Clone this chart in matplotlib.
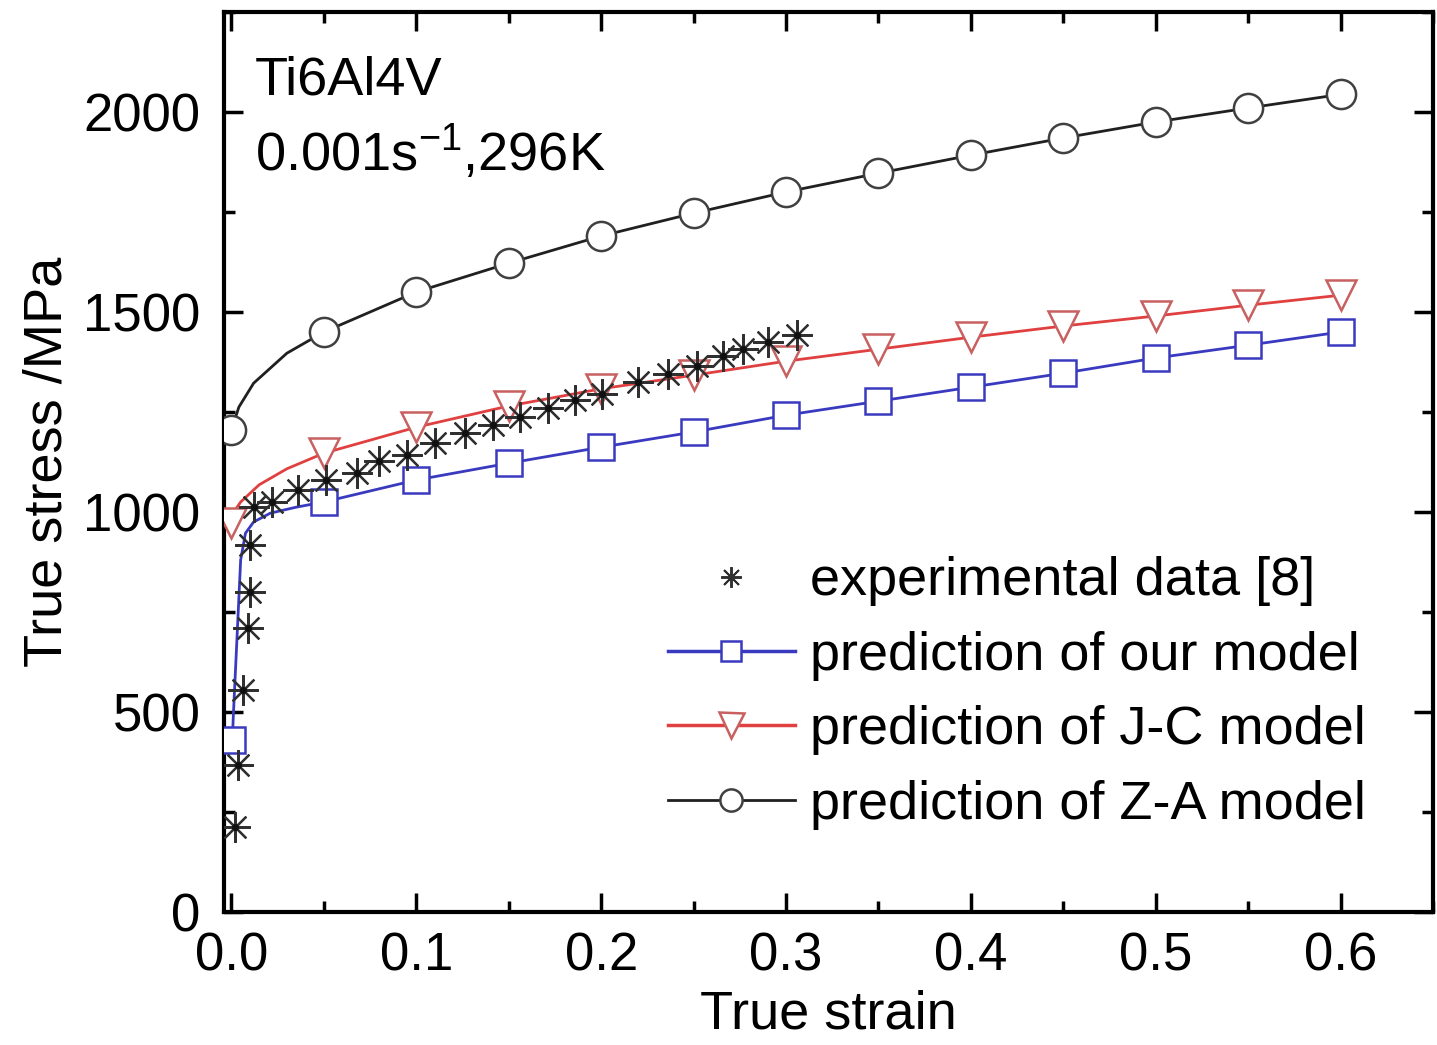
import numpy as np
import matplotlib
matplotlib.use('Agg')
import matplotlib.pyplot as plt
from matplotlib.ticker import MultipleLocator

plt.rcParams['font.family'] = ['Liberation Sans', 'DejaVu Sans']

# experimental data [8]
exp_strain = [0.0022, 0.0038, 0.0065, 0.0092, 0.0103, 0.0103, 0.012, 0.022, 0.036, 0.051,
              0.068, 0.080, 0.095, 0.110, 0.1265, 0.1416, 0.156, 0.171, 0.186, 0.2005,
              0.220, 0.236, 0.252, 0.266, 0.277, 0.290, 0.306]
exp_stress = [212, 367, 555, 710, 800, 917, 1012, 1025, 1055, 1080,
              1097, 1128, 1142, 1172, 1197, 1217, 1237, 1260, 1280, 1295,
              1325, 1345, 1365, 1390, 1408, 1425, 1442]

# model markers
mk_strain = [0.0, 0.05, 0.1, 0.15, 0.2, 0.25, 0.3, 0.35, 0.4, 0.45, 0.5, 0.55, 0.6]
our_mk_strain = [0.0005, 0.05, 0.1, 0.15, 0.2, 0.25, 0.3, 0.35, 0.4, 0.45, 0.5, 0.55, 0.6]
our_mk = [430, 1025, 1080, 1122, 1162, 1200, 1242, 1277, 1312, 1347, 1385, 1417, 1450]
jc_mk = [972, 1147, 1212, 1265, 1308, 1342, 1377, 1407, 1437, 1465, 1490, 1517, 1542]
za_mk = [1205, 1450, 1550, 1622, 1690, 1747, 1800, 1847, 1892, 1935, 1975, 2010, 2044]

# curve points read along the drawn lines near the origin
our_line_strain = [0.0005, 0.001, 0.005, 0.0076, 0.012, 0.021, 0.035]
our_line = [430, 487, 880, 947, 975, 997, 1012]
jc_line_strain = [0.0, 0.002, 0.005, 0.015, 0.03]
jc_line = [990, 1005, 1025, 1068, 1108]
za_line_strain = [0.0, 0.004, 0.012, 0.03]
za_line = [1205, 1262, 1322, 1397]

fig = plt.figure(figsize=(14.37, 10.45), dpi=100)
ax = fig.add_axes([0.1559, 0.1273, 0.8413, 0.8612])

blue = '#3a3ac0'
red = '#e04040'
fs = 38

def merged(xs1, ys1, xs2, ys2):
    pts = sorted(set(zip(xs1, ys1)) | set(zip(xs2, ys2)))
    return [p[0] for p in pts], [p[1] for p in pts]

ox, oy = merged(our_line_strain, our_line, our_mk_strain[1:], our_mk[1:])
jx, jy = merged(jc_line_strain, jc_line, mk_strain[1:], jc_mk[1:])
zx, zy = merged(za_line_strain, za_line, mk_strain[1:], za_mk[1:])

ax.plot(ox, oy, color=blue, lw=2, zorder=2)
ax.plot(jx, jy, color=red, lw=2, zorder=2)
ax.plot(zx, zy, color='#202020', lw=2, zorder=2)

ax.plot(our_mk_strain, our_mk, ls='none', marker='s', ms=19, mfc='white',
        mec=blue, mew=1.8, zorder=3)
ax.plot(mk_strain, jc_mk, ls='none', marker='v', ms=22, mfc='white',
        mec='#c86060', mew=1.8, zorder=3)
ax.plot(mk_strain, za_mk, ls='none', marker='o', ms=21, mfc='white',
        mec='#404040', mew=1.8, zorder=3)
ax.plot(exp_strain, exp_stress, ls='none', marker=(8, 2, 0), ms=22,
        mec='#303030', mew=1.6, zorder=4)
ax.plot(exp_strain, exp_stress, ls='none', marker='o', ms=5,
        mfc='#101010', mec='none', zorder=5)

# legend handles
h_exp, = ax.plot([], [], ls='none', marker=(8, 2, 0), ms=15, mec='#303030', mew=1.4)
h_our, = ax.plot([], [], color=blue, lw=2.5, marker='s', ms=15, mfc='white', mec=blue, mew=1.8)
h_jc, = ax.plot([], [], color=red, lw=2.5, marker='v', ms=18, mfc='white', mec='#c86060', mew=1.8)
h_za, = ax.plot([], [], color='#202020', lw=2, marker='o', ms=16, mfc='white', mec='#404040', mew=1.8)
ax.legend([h_exp, h_our, h_jc, h_za],
          ['experimental data [8]', 'prediction of our model',
           'prediction of J-C model', 'prediction of Z-A model'],
          loc='upper left', bbox_to_anchor=(0.367, 0.395), frameon=False,
          fontsize=39, handlelength=2.35, handletextpad=0.28, labelspacing=0.45,
          borderpad=0, borderaxespad=0)

ax.set_xlim(-0.004, 0.65)
ax.set_ylim(0, 2250)
ax.xaxis.set_major_locator(MultipleLocator(0.1))
ax.xaxis.set_minor_locator(MultipleLocator(0.05))
ax.yaxis.set_major_locator(MultipleLocator(500))
ax.yaxis.set_minor_locator(MultipleLocator(250))
ax.xaxis.set_major_formatter(plt.FuncFormatter(lambda v, p: f'{v:.1f}'))
ax.tick_params(which='both', direction='in', top=True, right=True, width=2.5,
               labelsize=fs)
ax.tick_params(axis='x', pad=14)
ax.tick_params(axis='y', pad=17)
ax.tick_params(which='major', length=14)
ax.tick_params(which='minor', length=8)
for s in ax.spines.values():
    s.set_linewidth(3)

ax.set_xlabel('True strain', fontsize=39, labelpad=6)
ax.set_ylabel('True stress /MPa', fontsize=39, labelpad=8)

ax.text(0.0256, 0.908, 'Ti6Al4V', transform=ax.transAxes, fontsize=39, va='baseline')
ax.text(0.0256, 0.824, '0.001s$^{\\mathregular{-1}}$,296K', transform=ax.transAxes,
        fontsize=39, va='baseline')

fig.savefig('out.png', dpi=100)
